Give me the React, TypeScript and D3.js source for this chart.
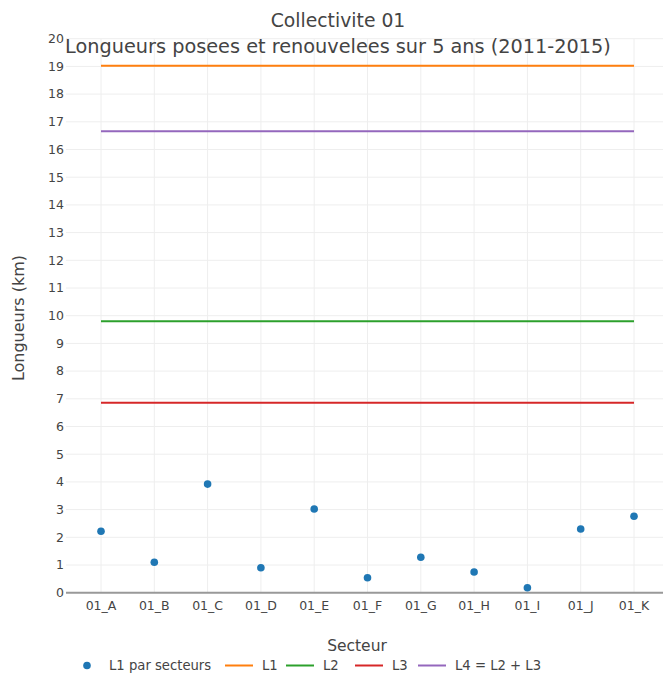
import React from "react";
import * as d3 from "d3";

const sectors = ["01_A", "01_B", "01_C", "01_D", "01_E", "01_F", "01_G", "01_H", "01_I", "01_J", "01_K"];
const l1BySector = [2.22, 1.1, 3.92, 0.9, 3.02, 0.54, 1.28, 0.75, 0.18, 2.3, 2.76];
const refLines = [
  { name: "L1", value: 19.02, color: "#ff7f0e" },
  { name: "L2", value: 9.8, color: "#2ca02c" },
  { name: "L3", value: 6.86, color: "#d62728" },
  { name: "L4 = L2 + L3", value: 16.66, color: "#9467bd" },
];
const yTicks = d3.range(0, 21);

const W = 663;
const H = 677;
const FONT = '"DejaVu Sans", verdana, arial, sans-serif';
const TXT = "#444";

export default function App() {
  const plotLeft = 66;
  const plotRight = 672;
  const x = d3.scalePoint<string>().domain(sectors).range([101, 634]);
  const y = d3.scaleLinear().domain([0, 20]).range([592.7, 38.7]);

  const legendItems = [
    { kind: "dot", label: "L1 par secteurs", color: "#1f77b4", x: 87 },
    { kind: "line", label: "L1", color: "#ff7f0e", x: 225 },
    { kind: "line", label: "L2", color: "#2ca02c", x: 286 },
    { kind: "line", label: "L3", color: "#d62728", x: 355 },
    { kind: "line", label: "L4 = L2 + L3", color: "#9467bd", x: 418 },
  ];
  const legendY = 665.5;

  return (
    <svg
      width={W}
      height={H}
      style={{ position: "absolute", left: 0, top: 0, background: "#fff" }}
      fontFamily={FONT}
    >
      <rect x={0} y={0} width={W} height={H} fill="#fff" />
      {yTicks.map((t) =>
        t === 0 ? null : (
          <line key={"gy" + t} x1={plotLeft} x2={plotRight} y1={y(t)} y2={y(t)} stroke="#eee" strokeWidth={1} />
        )
      )}
      {sectors.map((s) => (
        <line key={"gx" + s} x1={x(s)!} x2={x(s)!} y1={y(20)} y2={y(0)} stroke="#eee" strokeWidth={1} />
      ))}
      <line x1={plotLeft} x2={plotRight} y1={y(0)} y2={y(0)} stroke="#999" strokeWidth={2} />

      {yTicks.map((t) => (
        <text key={"ty" + t} x={64} y={y(t)} dy="0.35em" textAnchor="end" fontSize={12.5} fill={TXT}>
          {t}
        </text>
      ))}
      {sectors.map((s) => (
        <text key={"tx" + s} x={x(s)!} y={609.5} textAnchor="middle" fontSize={12.5} fill={TXT}>
          {s}
        </text>
      ))}

      {refLines.map((r) => (
        <line
          key={r.name}
          x1={x(sectors[0])!}
          x2={x(sectors[sectors.length - 1])!}
          y1={y(r.value)}
          y2={y(r.value)}
          stroke={r.color}
          strokeWidth={2}
        />
      ))}

      {sectors.map((s, i) => (
        <circle key={"p" + s} cx={x(s)!} cy={y(l1BySector[i])} r={3.8} fill="#1f77b4" />
      ))}

      <text x={338} y={26.5} textAnchor="middle" fontSize={18.8} fill={TXT}>
        Collectivite 01
      </text>
      <text x={338} y={53} textAnchor="middle" fontSize={19.3} fill={TXT}>
        Longueurs posees et renouvelees sur 5 ans (2011-2015)
      </text>

      <text transform={`translate(24,318) rotate(-90)`} textAnchor="middle" fontSize={16} fill={TXT}>
        Longueurs (km)
      </text>
      <text x={357} y={651} textAnchor="middle" fontSize={15.5} fill={TXT}>
        Secteur
      </text>

      {legendItems.map((it) => (
        <g key={it.label}>
          {it.kind === "dot" ? (
            <circle cx={it.x} cy={legendY} r={3.8} fill={it.color} />
          ) : (
            <line x1={it.x} x2={it.x + 28} y1={legendY} y2={legendY} stroke={it.color} strokeWidth={2} />
          )}
          <text
            x={it.kind === "dot" ? it.x + 22 : it.x + 37}
            y={legendY}
            dy="0.35em"
            fontSize={13.2}
            fill={TXT}
          >
            {it.label}
          </text>
        </g>
      ))}
    </svg>
  );
}
